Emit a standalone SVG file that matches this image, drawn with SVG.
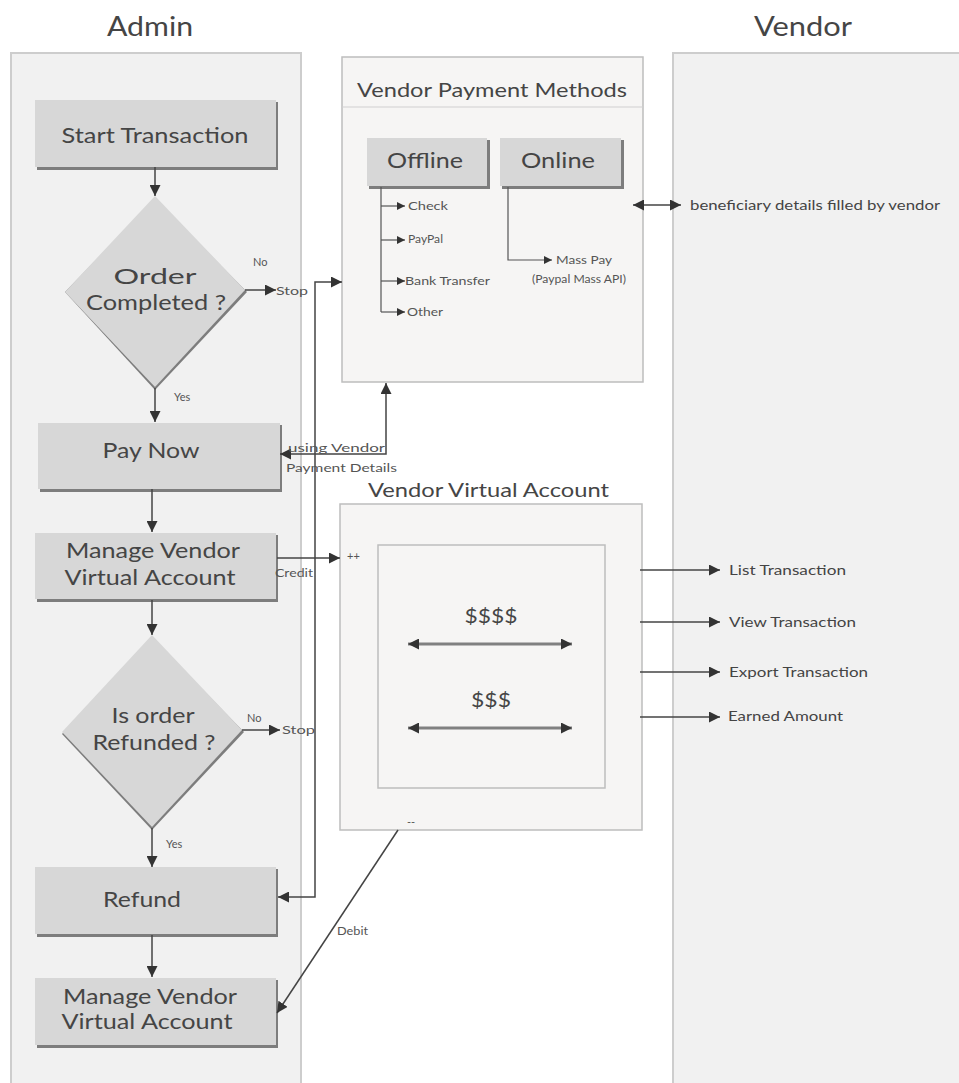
<svg xmlns="http://www.w3.org/2000/svg" width="959" height="1083" viewBox="0 0 959 1083">
  <style>
    text { font-family: Lato, "Open Sans", "Liberation Sans", sans-serif; fill: #454545; }
    .lane { fill: #f1f1f1; stroke: #cdcdcd; stroke-width: 2; }
    .panel { fill: #f6f5f4; stroke: #bdbdbd; stroke-width: 1.5; }
    .node { fill: #d7d7d7; }
    .shadow { fill: #7d7d7d; }
    .lane-title { font-size: 26px; }
    .node-text { font-size: 22px; text-anchor: middle; }
    .panel-title { font-size: 20px; }
    .small { font-size: 11px; fill: #555; }
    .label { font-size: 13px; fill: #444; }
    .edge { fill: none; stroke: #444; stroke-width: 1.5; }
    .thin { fill: none; stroke: #555; stroke-width: 1.2; }
    .money { fill: none; stroke: #808080; stroke-width: 3; }
  </style>
  <defs>
    <marker id="arr" markerUnits="userSpaceOnUse" viewBox="0 0 10 10" refX="10" refY="5" markerWidth="11" markerHeight="11" orient="auto-start-reverse">
      <path d="M0,0 L10,5 L0,10 z" fill="#333"/>
    </marker>
    <marker id="arrS" markerUnits="userSpaceOnUse" viewBox="0 0 10 10" refX="10" refY="5" markerWidth="8" markerHeight="8" orient="auto-start-reverse">
      <path d="M0,0 L10,5 L0,10 z" fill="#333"/>
    </marker>
  </defs>

  <!-- swimlanes -->
  <g id="lane-admin">
    <rect class="lane" x="11" y="53" width="290" height="1045"/>
    <text class="lane-title" x="150" y="36" text-anchor="middle" textLength="86" lengthAdjust="spacingAndGlyphs">Admin</text>
  </g>
  <g id="lane-vendor">
    <rect class="lane" x="673" y="53" width="300" height="1045"/>
    <text class="lane-title" x="803" y="36" text-anchor="middle" textLength="98" lengthAdjust="spacingAndGlyphs">Vendor</text>
  </g>

  <!-- payment methods panel -->
  <g id="vendor-payment-methods">
    <rect class="panel" x="342" y="57" width="301" height="325"/>
    <line x1="342" y1="107" x2="643" y2="107" stroke="#cfcfcf" stroke-width="1.2"/>
    <text class="panel-title" x="357" y="97" textLength="270" lengthAdjust="spacingAndGlyphs">Vendor Payment Methods</text>
  </g>
  <g id="offline">
    <rect class="shadow" x="369" y="140" width="121" height="49"/>
    <rect class="node" x="367" y="138" width="120" height="48"/>
    <text class="node-text" x="425" y="168" textLength="76" lengthAdjust="spacingAndGlyphs">Offline</text>
  </g>
  <g id="online">
    <rect class="shadow" x="502" y="140" width="122" height="49"/>
    <rect class="node" x="500" y="138" width="121" height="48"/>
    <text class="node-text" x="558" y="168" textLength="74" lengthAdjust="spacingAndGlyphs">Online</text>
  </g>
  <g id="offline-options">
    <text class="small" x="408" y="210" textLength="40" lengthAdjust="spacingAndGlyphs">Check</text>
    <text class="small" x="408" y="243" textLength="35" lengthAdjust="spacingAndGlyphs">PayPal</text>
    <text class="small" x="405" y="285" textLength="85" lengthAdjust="spacingAndGlyphs">Bank Transfer</text>
    <text class="small" x="407" y="316" textLength="36" lengthAdjust="spacingAndGlyphs">Other</text>
  </g>
  <g id="online-options">
    <text class="small" x="556" y="264" textLength="56" lengthAdjust="spacingAndGlyphs">Mass Pay</text>
    <text class="small" x="532" y="283" font-size="9" textLength="94" lengthAdjust="spacingAndGlyphs">(Paypal Mass API)</text>
  </g>
  <g id="beneficiary">
    <text class="label" x="690" y="210" textLength="250" lengthAdjust="spacingAndGlyphs">beneficiary details filled by vendor</text>
  </g>

  <!-- virtual account panel -->
  <g id="vendor-virtual-account">
    <text class="panel-title" x="368" y="497" textLength="241" lengthAdjust="spacingAndGlyphs">Vendor Virtual Account</text>
    <rect class="panel" x="340" y="504" width="302" height="326"/>
    <rect class="panel" x="378" y="545" width="227" height="243"/>
    <text class="panel-title" x="491" y="623" text-anchor="middle" textLength="53" lengthAdjust="spacingAndGlyphs">$$$$</text>
    <text class="panel-title" x="491" y="707" text-anchor="middle" textLength="40" lengthAdjust="spacingAndGlyphs">$$$</text>
    <text class="small" x="347" y="560">++</text>
    <text class="small" x="407" y="826">--</text>
  </g>
  <g id="account-actions">
    <text class="label" x="729" y="575" textLength="117" lengthAdjust="spacingAndGlyphs">List Transaction</text>
    <text class="label" x="729" y="627" textLength="127" lengthAdjust="spacingAndGlyphs">View Transaction</text>
    <text class="label" x="729" y="677" textLength="139" lengthAdjust="spacingAndGlyphs">Export Transaction</text>
    <text class="label" x="728" y="721" textLength="115" lengthAdjust="spacingAndGlyphs">Earned Amount</text>
  </g>

  <!-- admin flow nodes -->
  <g id="start-transaction">
    <rect class="shadow" x="37" y="102" width="241" height="68"/>
    <rect class="node" x="35" y="100" width="241" height="67"/>
    <text class="node-text" x="155" y="143" textLength="187" lengthAdjust="spacingAndGlyphs">Start Transaction</text>
  </g>
  <g id="order-completed">
    <polygon class="shadow" points="155,199 247,292 155,390 65,292"/>
    <polygon class="node" points="155,196 245,290 155,387 65,292"/>
    <text class="node-text" x="155" y="284" textLength="83" lengthAdjust="spacingAndGlyphs">Order</text>
    <text class="node-text" x="156" y="310" textLength="140" lengthAdjust="spacingAndGlyphs">Completed ?</text>
  </g>
  <g id="pay-now">
    <rect class="shadow" x="40" y="425" width="242" height="67"/>
    <rect class="node" x="38" y="423" width="242" height="66"/>
    <text class="node-text" x="151" y="458" textLength="97" lengthAdjust="spacingAndGlyphs">Pay Now</text>
  </g>
  <g id="manage-account-credit">
    <rect class="shadow" x="37" y="535" width="241" height="67"/>
    <rect class="node" x="35" y="533" width="241" height="66"/>
    <text class="node-text" x="153" y="558" textLength="174" lengthAdjust="spacingAndGlyphs">Manage Vendor</text>
    <text class="node-text" x="150" y="585" textLength="171" lengthAdjust="spacingAndGlyphs">Virtual Account</text>
  </g>
  <g id="order-refunded">
    <polygon class="shadow" points="152,638 244,732 152,830 62,734"/>
    <polygon class="node" points="152,635 242,730 152,827 62,732"/>
    <text class="node-text" x="153" y="723" textLength="83" lengthAdjust="spacingAndGlyphs">Is order</text>
    <text class="node-text" x="154" y="750" textLength="123" lengthAdjust="spacingAndGlyphs">Refunded ?</text>
  </g>
  <g id="refund">
    <rect class="shadow" x="37" y="869" width="241" height="68"/>
    <rect class="node" x="35" y="867" width="241" height="67"/>
    <text class="node-text" x="142" y="907" textLength="78" lengthAdjust="spacingAndGlyphs">Refund</text>
  </g>
  <g id="manage-account-debit">
    <rect class="shadow" x="37" y="980" width="241" height="68"/>
    <rect class="node" x="35" y="978" width="241" height="67"/>
    <text class="node-text" x="150" y="1004" textLength="174" lengthAdjust="spacingAndGlyphs">Manage Vendor</text>
    <text class="node-text" x="147" y="1029" textLength="171" lengthAdjust="spacingAndGlyphs">Virtual Account</text>
  </g>

  <!-- connectors -->
  <g id="connectors">
    <path class="edge" d="M155,167 V196" marker-end="url(#arr)"/>
    <path class="edge" d="M245,290 H276" marker-end="url(#arr)"/>
    <path class="edge" d="M155,388 V422" marker-end="url(#arr)"/>
    <path class="edge" d="M152,489 V532" marker-end="url(#arr)"/>
    <path class="edge" d="M152,600 V635" marker-end="url(#arr)"/>
    <path class="edge" d="M242,730 H280" marker-end="url(#arr)"/>
    <path class="edge" d="M152,828 V867" marker-end="url(#arr)"/>
    <path class="edge" d="M152,935 V977" marker-end="url(#arr)"/>

    <!-- payment methods link to refund -->
    <path class="edge" d="M278,897 H315 V282 H342" marker-start="url(#arr)" marker-end="url(#arr)"/>
    <!-- payment methods link to pay now -->
    <path class="edge" d="M386,383 V454 H280" marker-start="url(#arr)" marker-end="url(#arr)"/>
    <!-- credit / debit -->
    <path class="edge" d="M277,558 H340" marker-end="url(#arr)"/>
    <path class="edge" d="M398,830 L277,1013" marker-end="url(#arr)"/>

    <!-- offline / online options -->
    <path class="thin" d="M381,187 V312"/>
    <path class="thin" d="M381,206 H405" marker-end="url(#arrS)"/>
    <path class="thin" d="M381,240 H405" marker-end="url(#arrS)"/>
    <path class="thin" d="M381,281 H405" marker-end="url(#arrS)"/>
    <path class="thin" d="M381,312 H405" marker-end="url(#arrS)"/>
    <path class="thin" d="M508,187 V260 H552" marker-end="url(#arrS)"/>
    <path class="edge" d="M633,205 H681" marker-start="url(#arr)" marker-end="url(#arr)"/>

    <!-- account flows and actions -->
    <path class="money" d="M408,644 H572" marker-start="url(#arr)" marker-end="url(#arr)"/>
    <path class="money" d="M408,728 H572" marker-start="url(#arr)" marker-end="url(#arr)"/>
    <path class="edge" d="M640,570 H720" marker-end="url(#arr)"/>
    <path class="edge" d="M640,622 H720" marker-end="url(#arr)"/>
    <path class="edge" d="M640,672 H720" marker-end="url(#arr)"/>
    <path class="edge" d="M640,717 H720" marker-end="url(#arr)"/>
  </g>

  <!-- connector labels -->
  <g id="connector-labels">
    <text class="small" x="253" y="266" font-size="12">No</text>
    <text class="small" x="276" y="295" font-size="12" textLength="32" lengthAdjust="spacingAndGlyphs">Stop</text>
    <text class="small" x="174" y="401" font-size="12">Yes</text>
    <text class="small" x="247" y="722" font-size="12">No</text>
    <text class="small" x="282" y="734" font-size="12" textLength="33" lengthAdjust="spacingAndGlyphs">Stop</text>
    <text class="small" x="166" y="848" font-size="12">Yes</text>
    <text class="small" x="288" y="452" font-size="12" textLength="97" lengthAdjust="spacingAndGlyphs">using Vendor</text>
    <text class="small" x="286" y="472" font-size="12" textLength="111" lengthAdjust="spacingAndGlyphs">Payment Details</text>
    <text class="small" x="275" y="577" font-size="10" textLength="38" lengthAdjust="spacingAndGlyphs">Credit</text>
    <text class="small" x="337" y="935" font-size="10" textLength="31" lengthAdjust="spacingAndGlyphs">Debit</text>
  </g>
</svg>
